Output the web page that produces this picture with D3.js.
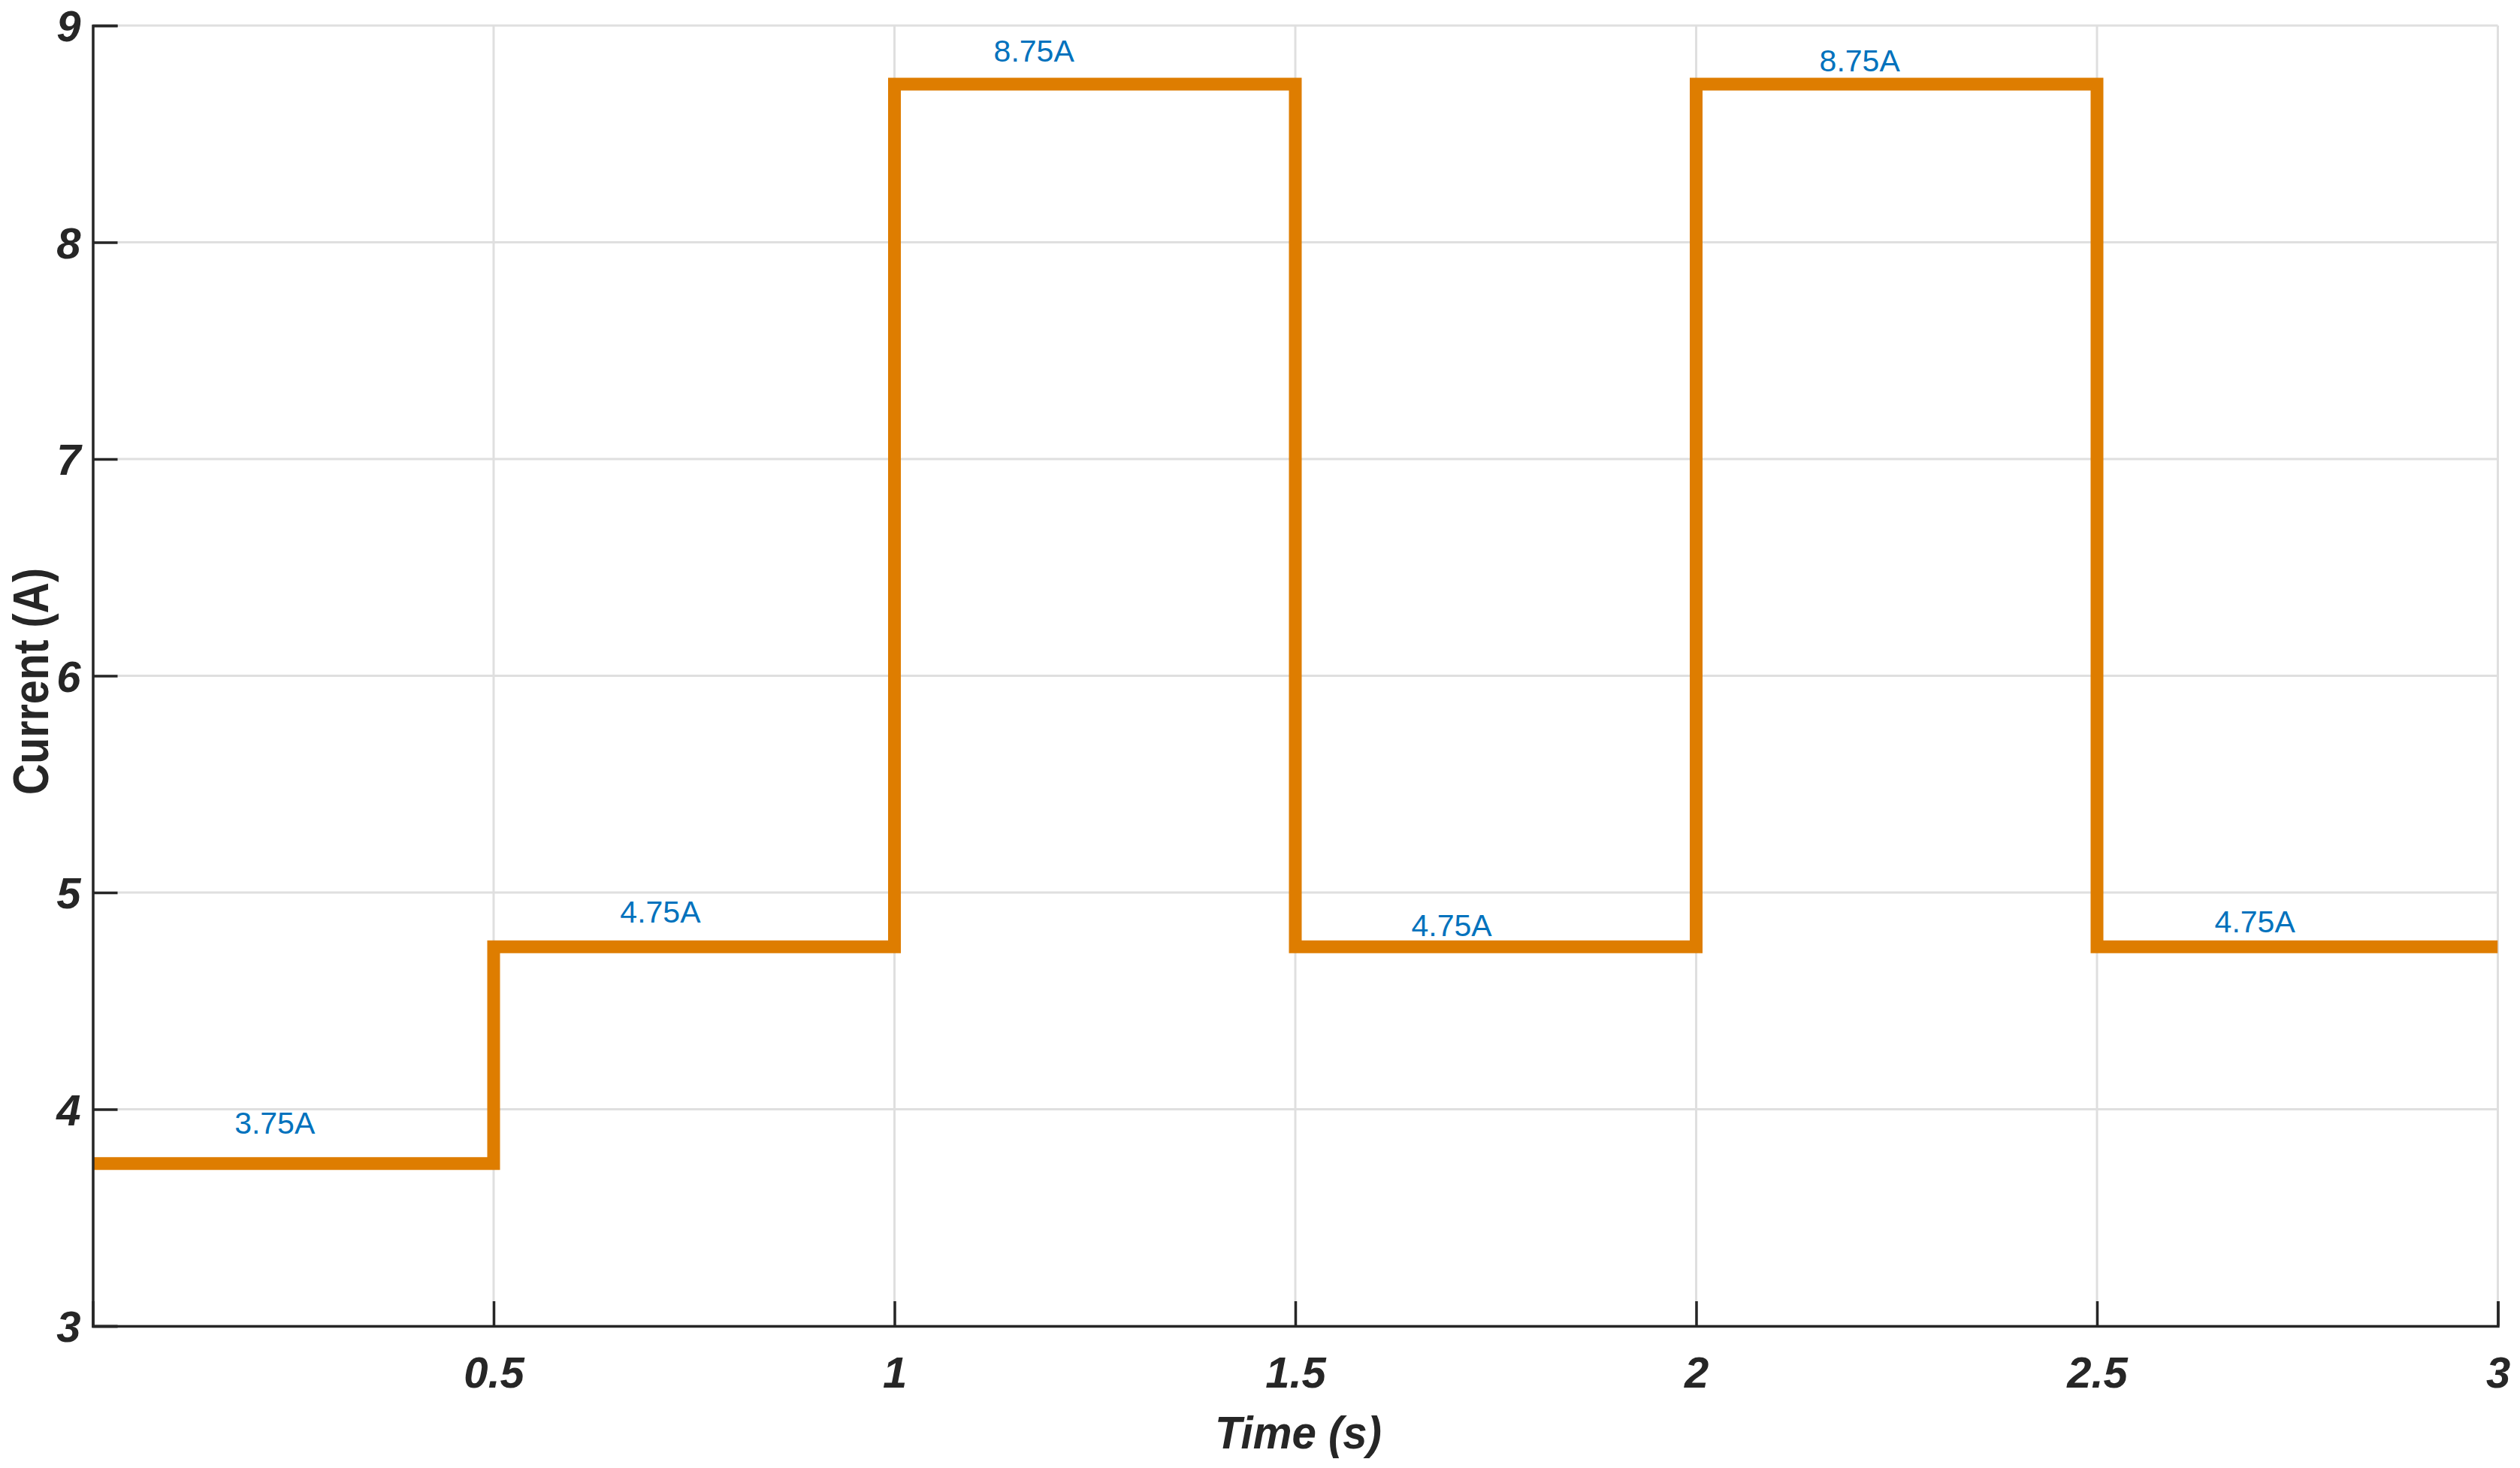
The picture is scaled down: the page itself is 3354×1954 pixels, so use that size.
<!DOCTYPE html>
<html>
<head>
<meta charset="utf-8">
<script src="https://cdn.jsdelivr.net/npm/d3@7"></script>
<style>
  html, body { margin: 0; padding: 0; background: #ffffff; }
  svg { display: block; }
  text { font-family: "Liberation Sans", Arial, Helvetica, sans-serif; }
</style>
</head>
<body>
<svg id="chart" width="3354" height="1954"></svg>
<script>
// ---- data ----
const stepTimes = [0, 0.5, 1, 1.5, 2, 2.5, 3];
const stepValues = [3.75, 4.75, 8.73, 4.75, 8.73, 4.75];
const labelTexts = ["3.75A", "4.75A", "8.75A", "4.75A", "8.75A", "4.75A"];
const labelX = [0.227, 0.708, 1.174, 1.695, 2.204, 2.697];
const labelY = [3.887, 4.861, 8.834, 4.799, 8.789, 4.816];
const xTicks = [0.5, 1, 1.5, 2, 2.5, 3];
const yTicks = [3, 4, 5, 6, 7, 8, 9];
const xGrid = [0, 0.5, 1, 1.5, 2, 2.5, 3];

// ---- layout ----
const pLeft = 123.5, pRight = 3324.5, pTop = 34, pBottom = 1765;
const x = d3.scaleLinear().domain([0, 3]).range([pLeft, pRight]);
const y = d3.scaleLinear().domain([3, 9]).range([pBottom, pTop]);

const svg = d3.select("#chart");

// grid
const grid = svg.append("g");
grid.selectAll("line.gx").data(xGrid).join("line")
  .attr("class", "gx")
  .attr("x1", d => x(d)).attr("x2", d => x(d))
  .attr("y1", pTop).attr("y2", pBottom)
  .attr("stroke", "#dfdfdf").attr("stroke-width", 3);
grid.selectAll("line.gy").data(yTicks).join("line")
  .attr("class", "gy")
  .attr("x1", pLeft).attr("x2", pRight)
  .attr("y1", d => y(d)).attr("y2", d => y(d))
  .attr("stroke", "#dfdfdf").attr("stroke-width", 3);

// step line
const pts = stepTimes.map((t, i) => [t, i < stepValues.length ? stepValues[i] : stepValues[stepValues.length - 1]]);
const line = d3.line().x(d => x(d[0])).y(d => y(d[1])).curve(d3.curveStepAfter);
svg.append("defs").append("clipPath").attr("id", "clip")
  .append("rect").attr("x", pLeft).attr("y", pTop - 20).attr("width", pRight - pLeft).attr("height", pBottom - pTop + 20);
svg.append("path").datum(pts)
  .attr("d", line)
  .attr("fill", "none")
  .attr("stroke", "#de7d00")
  .attr("stroke-width", 17)
  .attr("stroke-linejoin", "miter")
  .attr("clip-path", "url(#clip)");

// annotations
svg.selectAll("text.ann").data(labelTexts).join("text")
  .attr("class", "ann")
  .attr("x", (d, i) => x(labelX[i]))
  .attr("y", (d, i) => y(labelY[i]))
  .attr("text-anchor", "middle")
  .attr("font-size", 41)
  .attr("fill", "#0072bd")
  .text(d => d);

// axes
const xAxis = d3.axisBottom(x).tickValues(xTicks).tickSize(-33).tickPadding(0).tickFormat(d3.format("~g"));
const gx = svg.append("g").attr("transform", `translate(0,${pBottom})`).call(xAxis);
const yAxis = d3.axisLeft(y).tickValues(yTicks).tickSize(-33).tickPadding(0).tickFormat(d3.format("~g"));
const gy = svg.append("g").attr("transform", `translate(${pLeft},0)`).call(yAxis);

[gx, gy].forEach(g => {
  g.select(".domain").attr("stroke", "#262626").attr("stroke-width", 3.5);
  g.selectAll(".tick line").attr("stroke", "#262626").attr("stroke-width", 3.5);
  g.selectAll(".tick text")
    .attr("fill", "#262626")
    .attr("font-size", 58)
    .attr("font-weight", "bold")
    .attr("font-style", "italic")
    .attr("font-family", "'Liberation Sans', Arial, sans-serif");
});
gx.selectAll(".tick text").attr("y", 82).attr("dy", null);
gy.selectAll(".tick text").attr("x", -16).attr("dy", "0.36em");

// axis labels
svg.append("text")
  .attr("x", (pLeft + pRight) / 2 + 4)
  .attr("y", 1928)
  .attr("text-anchor", "middle")
  .attr("font-size", 62)
  .attr("font-weight", "bold")
  .attr("font-style", "italic")
  .attr("fill", "#262626")
  .attr("textLength", 222)
  .attr("lengthAdjust", "spacingAndGlyphs")
  .text("Time (s)");

svg.append("text")
  .attr("transform", `translate(64,907) rotate(-90)`)
  .attr("text-anchor", "middle")
  .attr("font-size", 66)
  .attr("font-weight", "bold")
  .attr("fill", "#262626")
  .attr("textLength", 302)
  .attr("lengthAdjust", "spacingAndGlyphs")
  .text("Current (A)");
</script>
</body>
</html>
